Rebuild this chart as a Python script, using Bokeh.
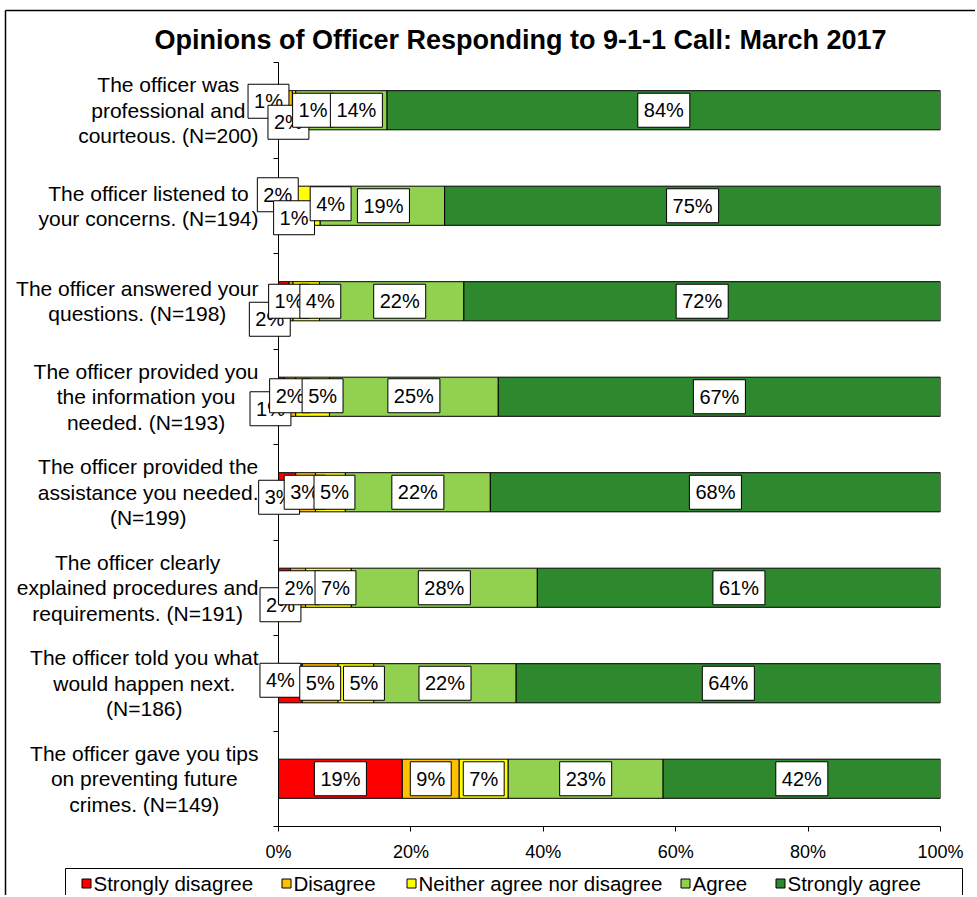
from bokeh.plotting import figure
from bokeh.models import ColumnDataSource, Range1d, FixedTicker
from bokeh.core.properties import value
from bokeh.embed import file_html
from bokeh.resources import INLINE

# ---------------- data ----------------
categories = [
    "The officer was\nprofessional and\ncourteous. (N=200)",
    "The officer listened to\nyour concerns. (N=194)",
    "The officer answered your\nquestions. (N=198)",
    "The officer provided you\nthe information you\nneeded. (N=193)",
    "The officer provided the\nassistance you needed.\n(N=199)",
    "The officer clearly\nexplained procedures and\nrequirements. (N=191)",
    "The officer told you what\nwould happen next.\n(N=186)",
    "The officer gave you tips\non preventing future\ncrimes. (N=149)",
]
series_names = ["Strongly disagree", "Disagree", "Neither agree nor disagree",
                "Agree", "Strongly agree"]

# segment shares (percent)
strongly_disagree = [0.6, 1.6, 1.6, 0.9, 2.6, 1.8, 3.6, 18.7]
disagree = [1.5, 0.9, 0.6, 1.7, 3.0, 2.3, 5.4, 8.6]
neither = [0.5, 3.8, 4.0, 5.1, 4.5, 6.9, 5.4, 7.4]
agree = [13.8, 18.8, 21.8, 25.5, 21.9, 28.1, 21.5, 23.4]
strongly_agree = [83.6, 74.9, 72.0, 66.8, 68.0, 60.9, 64.1, 41.9]

# displayed (rounded) percentages
label_sd = [1, 2, 2, 1, 3, 2, 4, 19]
label_d = [2, 1, 1, 2, 3, 2, 5, 9]
label_n = [1, 4, 4, 5, 5, 7, 5, 7]
label_a = [14, 19, 22, 25, 22, 28, 22, 23]
label_sa = [84, 75, 72, 67, 68, 61, 64, 42]

x_ticks = [0, 20, 40, 60, 80, 100]
x_tick_labels = ["0%", "20%", "40%", "60%", "80%", "100%"]

title_text = "Opinions of Officer Responding to 9-1-1 Call: March 2017"

# ---------------- layout / styles ----------------
colors = ["#FF0000", "#FFC000", "#FFFF00", "#92D050", "#2E882E"]
FONT = "Liberation Sans"
W, H = 975, 895
FL, FR, FT, FB = 278, 940, 62, 826          # plot frame in page pixels
n = len(categories)


def px2x(px):
    return (px - FL) / (FR - FL) * 100.0


def py2y(py):
    return n - (py - FT) / (FB - FT) * n


# manual label nudges (screen px, +x right, +y down) per bar, per segment
label_nudges = [
    [(-12, -9), (1, 12), (19, 0), (15, 0), (0, 0)],
    [(-6, -11), (2, 12), (23, -2), (1, 0), (0, 0)],
    [(-14, 18), (-2, 0), (14, 0), (8, 0), (0, 0)],
    [(-11, 12), (0, -1), (10, -1), (0, -1), (0, 0)],
    [(-8, 5), (-1, 0), (4, 0), (0, 0), (0, 0)],
    [(-4, 17), (1, 0), (7, 0), (0, 0), (0, 0)],
    [(-10, -3), (0, 0), (8, 0), (0, 0), (0, 0)],
    [(0, 0), (0, 0), (0, 0), (0, 0), (0, 0)],
]
legend_text_left = [93, 293, 418, 692, 787]   # page px
legend_row_y = 883
legend_box = (65, 962, 868, 897)

ypos = [n - 0.5 - i for i in range(n)]

p = figure(width=W, height=H, output_backend="svg", toolbar_location=None,
           x_range=Range1d(0, 100), y_range=Range1d(0, n),
           min_border_left=FL, min_border_right=W - FR,
           min_border_top=FT, min_border_bottom=H - FB)
p.outline_line_color = None
p.xgrid.visible = False
p.ygrid.visible = False
p.background_fill_color = "white"
p.border_fill_color = "white"

# outer chart border (top and left; right/bottom are off-page in reference)
br = p.segment(x0=[px2x(5), px2x(5)], y0=[py2y(10), py2y(10)],
               x1=[px2x(5), px2x(W + 10)], y1=[py2y(H + 10), py2y(10)],
               line_color="black", line_width=1.5)
br.level = "overlay"

series = [strongly_disagree, disagree, neither, agree, strongly_agree]
labels = [label_sd, label_d, label_n, label_a, label_sa]

left = [0.0] * n
renderers = []
seg_centers = []
for k, vals in enumerate(series):
    right = [l + v for l, v in zip(left, vals)]
    src = ColumnDataSource(dict(y=ypos, left=left, right=right))
    r = p.hbar(y="y", left="left", right="right", height=0.41, source=src,
               fill_color=colors[k], line_color="black", line_width=1)
    renderers.append(r)
    seg_centers.append([(l + rr) / 2 for l, rr in zip(left, right)])
    left = right

# data labels (ordered bar by bar so later ones draw on top)
lx, ly, lt, dxs, dys = [], [], [], [], []
for i in range(n):
    for k in range(len(series)):
        lx.append(seg_centers[k][i])
        ly.append(ypos[i])
        lt.append(f"{labels[k][i]}%")
        dxs.append(label_nudges[i][k][0])
        dys.append(label_nudges[i][k][1])
lsrc = ColumnDataSource(dict(x=lx, y=ly, text=lt, dx=dxs, dy=dys))
tr = p.text(x="x", y="y", text="text", x_offset="dx", y_offset="dy", source=lsrc,
            text_font=value(FONT), text_font_size="20px", text_color="black",
            text_align="center", text_baseline="middle",
            background_fill_color="white", border_line_color="black",
            border_line_width=1, padding=(6, 6))
tr.level = "overlay"

# category labels
csrc = ColumnDataSource(dict(x=[0] * n, y=ypos, text=categories))
cr = p.text(x="x", y="y", text="text", source=csrc, x_offset=-20,
            text_font=value(FONT), text_font_size="21px", text_color="black",
            text_align="center", text_baseline="middle", anchor="center_right",
            text_line_height=1.1)
cr.level = "overlay"

# axes
p.xaxis.ticker = FixedTicker(ticks=x_ticks)
p.xaxis.major_label_overrides = {t: s for t, s in zip(x_ticks, x_tick_labels)}
p.xaxis.major_tick_out = 5
p.xaxis.major_tick_in = 0
p.xaxis.minor_tick_line_color = None
p.xaxis.axis_line_color = "black"
p.xaxis.major_tick_line_color = "black"
p.xaxis.major_label_text_font = FONT
p.xaxis.major_label_text_font_size = "18px"
p.xaxis.major_label_text_color = "black"
p.xaxis.major_label_standoff = 10

p.yaxis.ticker = FixedTicker(ticks=list(range(n + 1)))
p.yaxis.major_label_text_alpha = 0
p.yaxis.major_tick_out = 5
p.yaxis.major_tick_in = 0
p.yaxis.minor_tick_line_color = None
p.yaxis.axis_line_color = "black"
p.yaxis.major_tick_line_color = "black"

# title
tt = p.text(x=[px2x(520)], y=[py2y(39)], text=[title_text],
            text_font=value(FONT), text_font_size="27px", text_font_style="bold",
            text_color="black", text_align="center", text_baseline="alphabetic")
tt.level = "overlay"

# legend (drawn as glyphs so it can sit below the axis)
bx0, bx1, by0, by1 = legend_box
lb = p.rect(x=[px2x((bx0 + bx1) / 2)], y=[py2y((by0 + by1) / 2)],
            width=bx1 - bx0, height=by1 - by0, width_units="screen",
            height_units="screen", fill_color="white", line_color="black",
            line_width=1)
lb.level = "overlay"
lg_src = ColumnDataSource(dict(
    sx=[px2x(t - 7) for t in legend_text_left],
    tx=[px2x(t) for t in legend_text_left],
    y=[py2y(legend_row_y)] * len(series_names),
    w=[9] * len(series_names),
    color=colors, name=series_names))
ls = p.rect(x="sx", y="y", width="w", height="w", width_units="screen",
            height_units="screen", fill_color="color", line_color="black",
            line_width=1, source=lg_src)
ls.level = "overlay"
lt_r = p.text(x="tx", y="y", text="name", source=lg_src,
              text_font=value(FONT), text_font_size="20.5px", text_color="black",
              text_align="left", text_baseline="middle")
lt_r.level = "overlay"

open("out.html", "w").write(file_html(p, INLINE))
